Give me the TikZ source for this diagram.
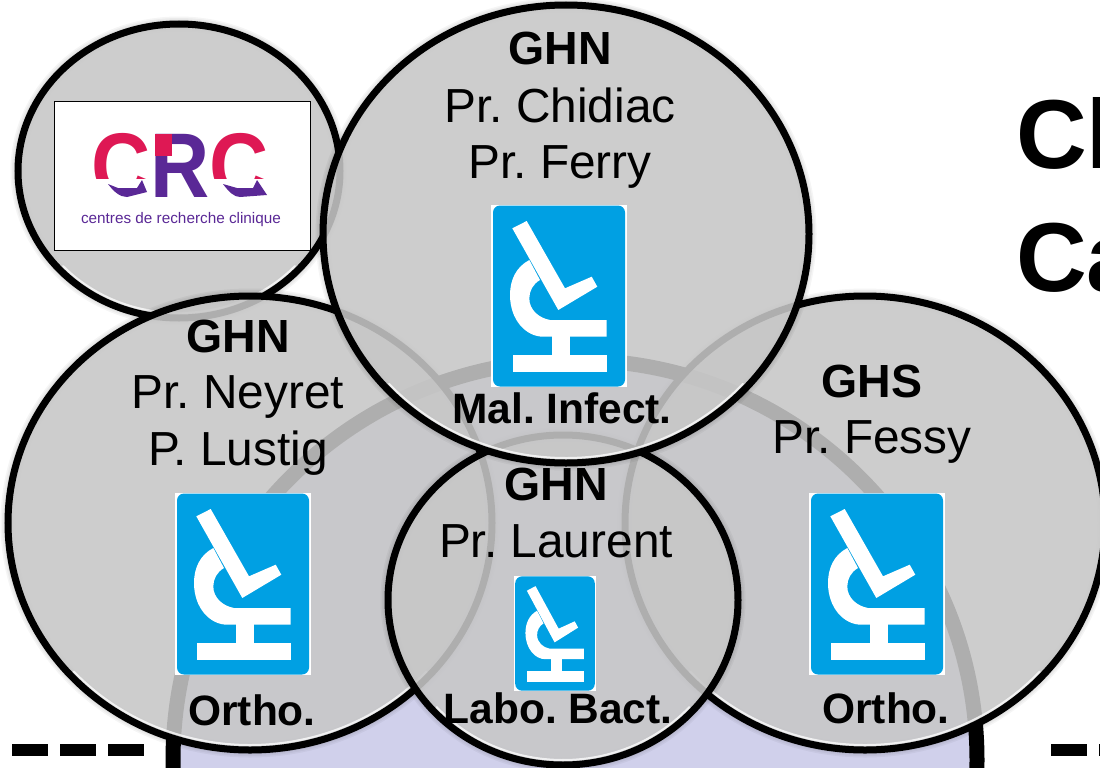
\documentclass[tikz,border=0pt]{standalone}
\usepackage{fontspec}
\setmainfont{Liberation Sans}
\frenchspacing
\usepackage{tikz}
\usetikzlibrary{calc}
\definecolor{boxLavender}{RGB}{208, 208, 235}
\definecolor{circleGray}{RGB}{199, 199, 199}
\definecolor{iconBlue}{RGB}{0, 160, 227}
\definecolor{crcCrimson}{RGB}{222, 24, 84}
\definecolor{crcPurple}{RGB}{90, 40, 150}
\tikzset{
	nameText/.style={anchor=base, inner sep=0pt, font=\fontsize{47.8}{56}\selectfont},
	siteText/.style={anchor=base, inner sep=0pt, font=\bfseries\fontsize{46.5}{56}\selectfont},
	unitText/.style={anchor=base, inner sep=0pt, font=\bfseries\fontsize{42.5}{50}\selectfont},
	titleText/.style={anchor=base west, inner sep=0pt, font=\bfseries\fontsize{98}{110}\selectfont},
	crcText/.style={anchor=base, inner sep=0pt, yscale=1.12, transform shape, font=\bfseries\fontsize{82}{90}\selectfont},
	dashLine/.style={line width=12pt, dash pattern=on 36pt off 12pt}
}
\newcommand{\LabCircle}[4]{
	\def\lx{#1}
	\def\ly{#2}
	\def\lrx{#3}
	\def\lry{#4}
	\foreach \lw in {15, 12, 9}
		\draw[black, opacity=0.04, line width=\lw pt] (\lx, \ly) ellipse [x radius=\lrx, y radius=\lry];
	\fill[circleGray, opacity=0.88] (\lx, \ly) ellipse [x radius=\lrx, y radius=\lry];
	\draw[white, opacity=0.75, line width=2pt, line cap=round] ($(\lx, \ly)+(42:\lrx-5 and \lry-5)$) arc[start angle=42, end angle=138, x radius=\lrx-5, y radius=\lry-5];
	\draw[black, line width=7pt] (\lx, \ly) ellipse [x radius=\lrx, y radius=\lry];
}
\newcommand{\MicroIcon}[4]{
	\begin{scope}[shift={(#1, #2)}, xscale=#3, yscale=#4]
		\fill[white] (0, 0) rectangle (136, 182);
		\fill[iconBlue, rounded corners=7pt] (2, 0.5) rectangle (134, 181.5);
		\fill[white] (22, 150) rectangle (116, 167);
		\fill[white] (61, 123) rectangle (79, 153);
		\fill[white] (21.3, 23.3) -- (35.7, 16) -- (74, 83.3) -- (100.7, 71.7) -- (106.3, 81.7) -- (67.3, 105) -- cycle;
		\fill[white] (38.3, 55) .. controls (25, 62) and (19, 75) .. (19, 90) .. controls (19, 115) and (35, 131.7) .. (52.3, 131.7) -- (115.7, 131.7) -- (115.7, 115) -- (59, 115) .. controls (48, 113) and (38.3, 105) .. (38.3, 93.3) .. controls (38.3, 86) and (42, 79) .. (49, 75) -- cycle;
	\end{scope}
}

\begin{document}
\begin{tikzpicture}[x=1pt, y=-1pt]

	\clip (0, 0) rectangle (1100, 768);
	\fill[white] (0, 0) rectangle (1100, 768);

	% big shape behind the circles
	\fill[boxLavender] (575, 760) ellipse [x radius=402, y radius=400];
	\draw[black, line width=15pt] (575, 760) ellipse [x radius=402, y radius=400];

	\draw[dashLine] (12, 750) -- (150, 750);
	\draw[dashLine] (1051, 750) -- (1100, 750);

	% circles, back to front
	\LabCircle{179}{171}{161}{147}
	\LabCircle{250}{523}{242}{227}
	\LabCircle{865}{523}{240}{227}
	\LabCircle{563}{600}{175}{165}
	\LabCircle{566}{234}{243}{229}

	% CRC logo
	\draw[black, fill=white, line width=1pt] (54, 101) rectangle (310, 250);
	\node[crcText, text=crcCrimson] (crcName) at (180, 197) {C{\color{crcPurple}R}C};
	\fill[white] (88, 179) rectangle (152, 202);
	\fill[white] (210, 179) rectangle (272, 202);
	\fill[crcCrimson] (155, 134) rectangle (172, 156);
	\fill[crcPurple] (108, 184) .. controls (114, 192) and (120, 197) .. (127, 197) -- (147, 192) -- (142, 180) -- (137, 188) -- (118, 188) -- cycle;
	\fill[crcPurple] (223, 184) .. controls (229, 192) and (234, 197) .. (240, 197) -- (267, 195) -- (257, 180) -- (253, 188) -- (237, 188) -- cycle;
	\node[anchor=base, inner sep=0pt, text=crcPurple, font=\fontsize{15.3}{17}\selectfont] (crcTag) at (181, 223) {centres de recherche clinique};

	\MicroIcon{491}{205}{1}{1}
	\MicroIcon{175}{493}{1}{1}
	\MicroIcon{809}{493}{1}{1}
	\MicroIcon{514}{576}{0.603}{0.632}

	% top circle
	\node[siteText] (topSite) at (560, 65) {GHN};
	\node[nameText] (topChidiac) at (560, 122) {Pr. Chidiac};
	\node[nameText] (topFerry) at (560, 178) {Pr. Ferry};
	\node[unitText] (topUnit) at (562, 423) {Mal. Infect.};

	% left circle
	\node[siteText] (leftSite) at (238, 352) {GHN};
	\node[nameText] (leftNeyret) at (238, 408) {Pr. Neyret};
	\node[nameText] (leftLustig) at (238, 465) {P. Lustig};
	\node[unitText] (leftUnit) at (252, 725) {Ortho.};

	% right circle
	\node[siteText] (rightSite) at (872, 397) {GHS};
	\node[nameText] (rightFessy) at (872, 453) {Pr. Fessy};
	\node[unitText] (rightUnit) at (886, 723) {Ortho.};

	% bottom circle
	\node[siteText] (lowSite) at (556, 500) {GHN};
	\node[nameText] (lowLaurent) at (556, 557) {Pr. Laurent};
	\node[unitText] (lowUnit) at (558, 723) {Labo. Bact.};

	% title, cut by the page
	\node[titleText] (titleOne) at (1016, 168) {Cl};
	\node[titleText] (titleTwo) at (1016, 291) {Ca};

\end{tikzpicture}
\end{document}
